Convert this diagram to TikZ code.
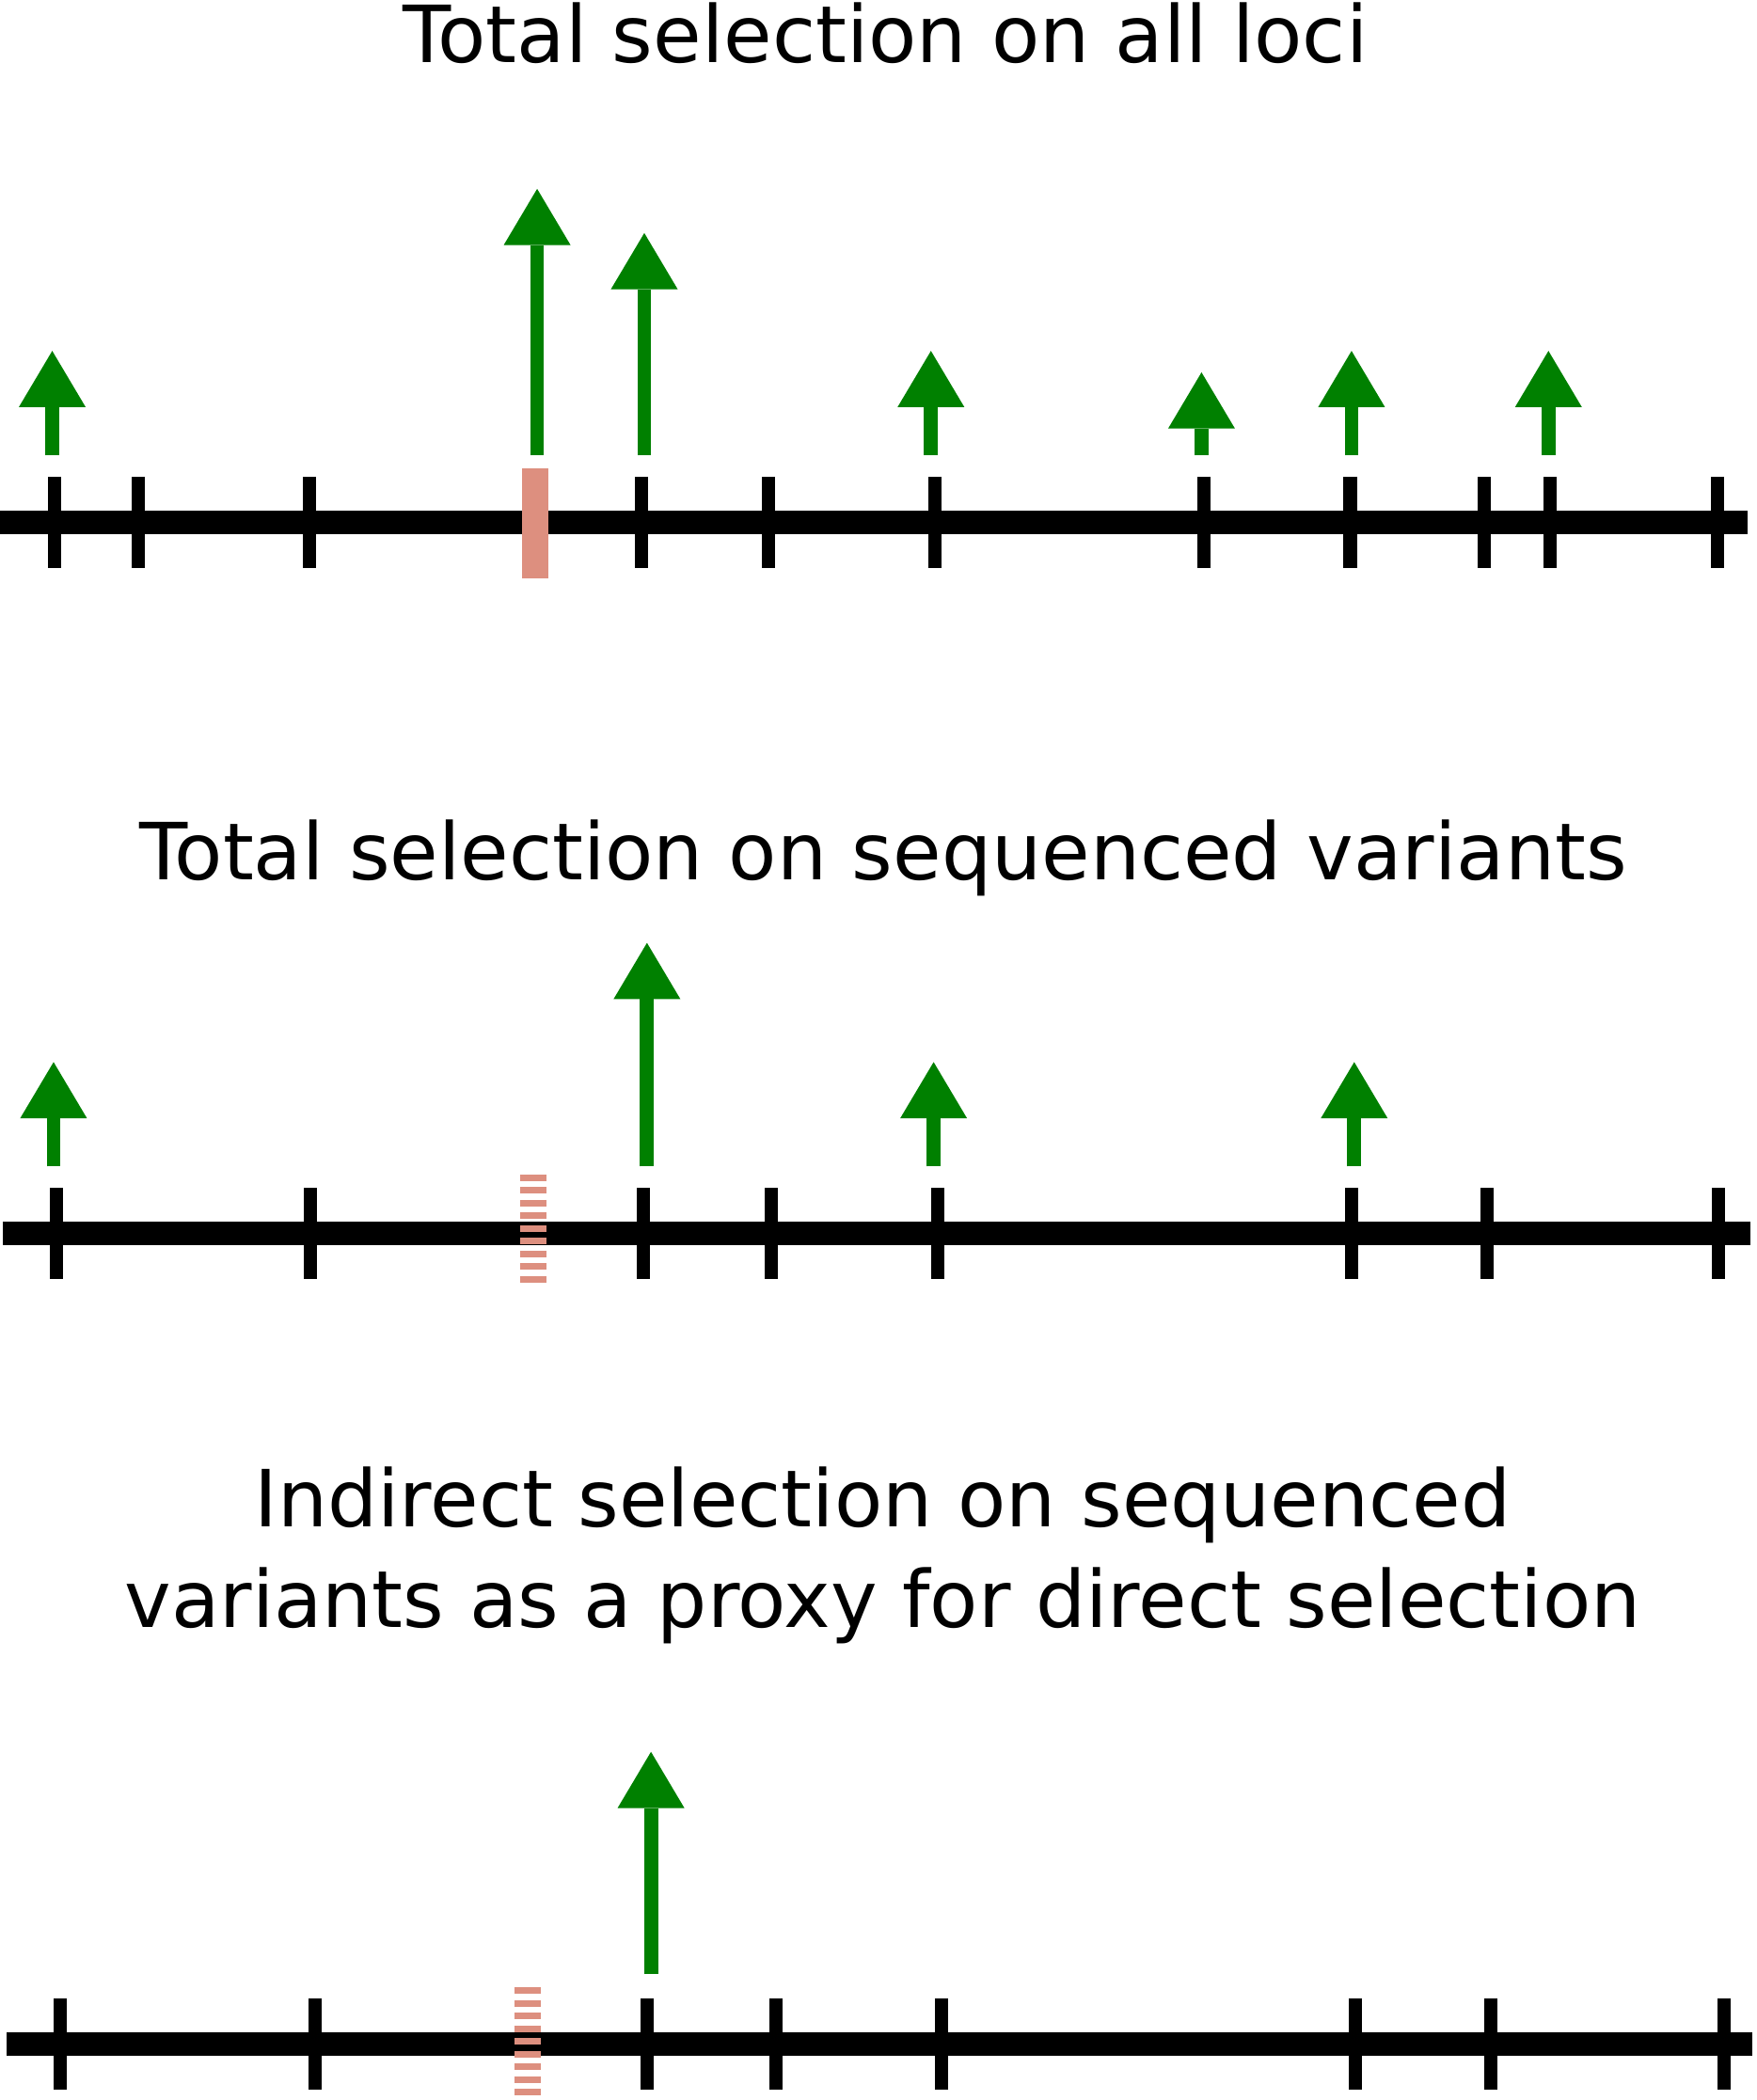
\documentclass[tikz,border=0pt]{standalone}
\usepackage{fontspec}
\setmainfont{DejaVu Sans}
\usepackage{tikz}
\usetikzlibrary{arrows.meta}
\definecolor{selgreen}{RGB}{0,128,0}
\definecolor{causal}{RGB}{221,143,127}

\begin{document}
\begin{tikzpicture}[
  x=0.014241cm, y=-0.014241cm,
  title/.style={font=\fontsize{23.85}{30.3}\selectfont, anchor=base, align=center},
  chrom/.style={line width=7.1pt, black},
  marker/.style={line width=4pt, black},
  effect/.style={-{Triangle[width=20.2pt, length=17pt, line width=0pt]}, line width=4.2pt, selgreen},
  causalbar/.style={line width=7.9pt, causal},
  causaltag/.style={line width=7.9pt, causal, dash pattern=on 1.92pt off 1.92pt}
]
\useasboundingbox (0,0) rectangle (1311,1568);

% all loci
\node[title] (title1) at (661,47) {Total selection on all loci};
\draw[chrom] (0,390) -- (1305,390);
\foreach \x in {41,103,231,479,574,698,899,1008,1108,1157,1282}
  \draw[marker] (\x,356) -- (\x,424);
\draw[causalbar] (399.5,350) -- (399.5,432);
\foreach \x/\t in {39/262, 401/141, 481/174, 695/262, 897/278, 1009/262, 1156/262}
  \draw[effect] (\x,340) -- (\x,\t);

% sequenced variants
\node[title] (title2) at (659.5,657) {Total selection on sequenced variants};
\draw[chrom] (2,921) -- (1307,921);
\foreach \x in {42,232,480,576,700,1009,1110,1283}
  \draw[marker] (\x,887) -- (\x,955);
\draw[causaltag] (398,877) -- (398,959);
\foreach \x/\t in {40/793, 483/704, 697/793, 1011/793}
  \draw[effect] (\x,871) -- (\x,\t);

% indirect selection (base = last line)
\node[title] (title3) at (659,1215) {Indirect selection on sequenced\\variants as a proxy for direct selection};
\draw[chrom] (5,1526) -- (1308,1526);
\foreach \x in {45,235,483,579,703,1012,1113,1287}
  \draw[marker] (\x,1492) -- (\x,1560);
\draw[causaltag] (394,1484) -- (394,1570);
\draw[effect] (486,1474) -- (486,1308);
\end{tikzpicture}
\end{document}
